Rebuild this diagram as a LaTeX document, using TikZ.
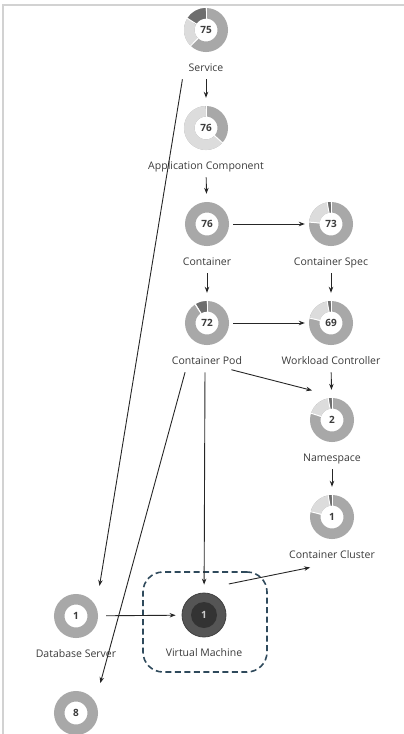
\documentclass[tikz,border=0pt]{standalone}
\usepackage{fontspec}
\setmainfont{Open Sans}
\usetikzlibrary{arrows.meta,positioning}
\definecolor{ringmid}{HTML}{A8A8A8}
\definecolor{ringlight}{HTML}{DCDCDC}
\definecolor{ringdark}{HTML}{6E6E6E}
\definecolor{vmouter}{HTML}{555555}
\definecolor{vminner}{HTML}{333333}
\definecolor{numgray}{HTML}{3C3C3C}
\definecolor{lblgray}{HTML}{3A3A3A}
\definecolor{scopeline}{HTML}{2F4A5C}
\definecolor{framegray}{HTML}{D2D2D2}

% ring with segments: name, position, value, dark span, light span
\newcommand\donut[5]{%
  \node[ring] (#1) at (#2) {#3};
  \draw[seg,ringmid] (#1.center) circle[radius=16.75];
  \ifnum\numexpr#4+#5\relax>0
  \draw[seg,ringlight] ([shift={(90+#4:16.75)}]#1.center) arc[start angle=90+#4, delta angle=#5, radius=16.75];
  \draw[seg,ringdark] ([shift={(90:16.75)}]#1.center) arc[start angle=90, delta angle=#4, radius=16.75];
  \foreach \a in {90,90+#4,90+#4+#5}
    \draw[white,line width=1pt] ([shift={(\a:11)}]#1.center) -- ([shift={(\a:22.5)}]#1.center);
  \fi
}

\begin{document}
\begin{tikzpicture}[x=1pt,y=1pt,
    ring/.style={rectangle,minimum size=44pt,inner sep=0pt,
      font=\fontsize{10}{12}\selectfont\bfseries,text=numgray},
    seg/.style={line width=10.5pt},
    lbl/.style={font=\fontsize{10.5}{12}\selectfont,text=lblgray,inner sep=1.5pt,
      text height=8pt,text depth=2.5pt},
    arr/.style={-{Stealth[length=6pt,width=4.5pt]},black!85,line width=0.9pt,
      shorten <=3.5pt,shorten >=8pt},
    harr/.style={arr,shorten <=4pt,shorten >=4pt},
    scopebox/.style={draw=scopeline,line width=1.6pt,dash pattern=on 6pt off 3.5pt,
      rounded corners=20pt,minimum width=124pt,minimum height=100pt},
    node distance=9.75pt]
  \useasboundingbox (0,0) rectangle (404,-734);
  % frame of the view
  \draw[framegray,line width=1.5pt] (3,-734) -- (3,-5) -- (404,-5);

  % rings
  \donut{svc}{206,-30}{75}{58}{78}
  \donut{app}{206,-128}{76}{0}{228}
  \donut{ctr}{207,-224}{76}{0}{0}
  \donut{spec}{331,-224}{73}{10}{75}
  \donut{pod}{207,-323}{72}{32}{0}
  \donut{wlc}{331,-323}{69}{10}{67}
  \donut{ns}{332,-420}{2}{10}{62}
  \donut{cc}{332,-517}{1}{10}{66}
  \donut{db}{76,-616}{1}{0}{0}
  \donut{eight}{76,-713}{8}{0}{0}

  \node[scopebox] (vmbox) at (205,-622) {};
  \node[circle,minimum size=44pt,inner sep=0pt,fill=vmouter,draw=black!75,line width=0.8pt,
    path picture={\fill[vminner] (path picture bounding box.center) circle[radius=13];},
    font=\fontsize{10}{12}\selectfont\bfseries,text=black!20] (vm) at (204,-615) {1};

  % labels
  \node[lbl,below=of svc](svcl){Service};
  \node[lbl,below=of app](appl){Application Component};
  \node[lbl,below=of ctr](ctrl){Container};
  \node[lbl,below=of spec](specl){Container Spec};
  \node[lbl,below=of pod](podl){Container Pod};
  \node[lbl,below=of wlc](wlcl){Workload Controller};
  \node[lbl,below=of ns](nsl){Namespace};
  \node[lbl,below=of cc](ccl){Container Cluster};
  \node[lbl,below=of db](dbl){Database Server};
  \node[lbl,below=of vm](vml){Virtual Machine};

  % connectors
  \draw[arr](svcl)--(app);\draw[arr](appl)--(ctr);
  \draw[arr](ctrl)--(pod);\draw[arr](specl)--(wlc);
  \draw[arr](wlcl)--(ns);\draw[arr](nsl)--(cc);
  \draw[harr](ctr)--(spec);\draw[harr](pod)--(wlc);
  \draw[arr,shorten <=8pt,shorten >=6pt](db)--(vm);
  \draw[arr]([xshift=-2pt]podl.south)--(vm);
  \draw[arr]([xshift=-23pt]svcl.south)--(db.north east);
  \draw[arr]([xshift=-21pt]podl.south)--(eight.north east);
  \draw[arr]([xshift=21pt]podl.south)--([xshift=10pt,yshift=5.4pt]ns.north west);
  \draw[arr,shorten <=1pt]([xshift=8pt,yshift=15pt]vm.north east)--([xshift=-14pt,yshift=-3pt]ccl.south);
\end{tikzpicture}
\end{document}
